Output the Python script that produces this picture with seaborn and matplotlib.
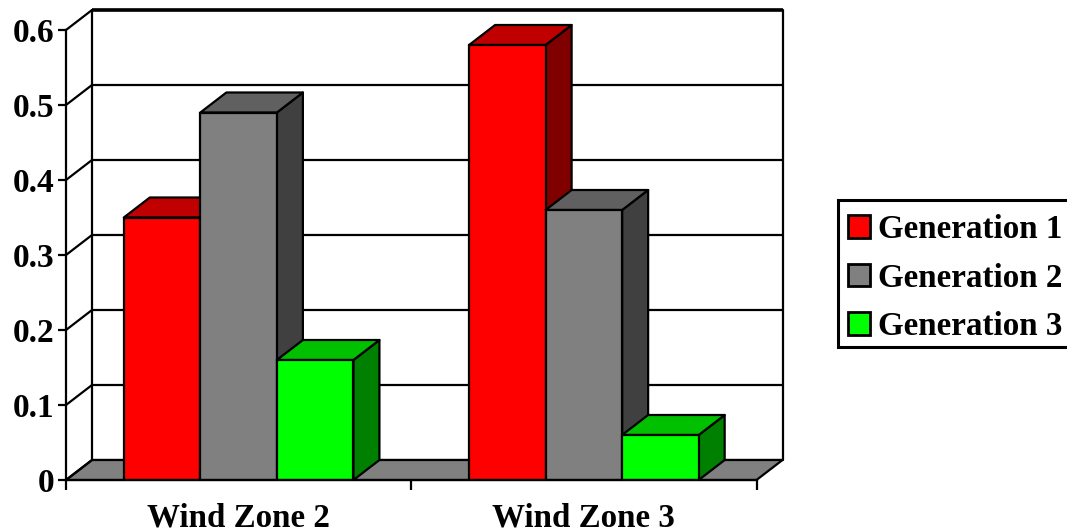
# plot.py
import matplotlib
matplotlib.use("Agg")
import matplotlib.pyplot as plt
from matplotlib.patches import Polygon, Rectangle
import pandas as pd
import seaborn as sns

zones = ["Wind Zone 2", "Wind Zone 3"]
generations = ["Generation 1", "Generation 2", "Generation 3"]
gen1 = [0.35, 0.58]
gen2 = [0.49, 0.36]
gen3 = [0.16, 0.06]
y_ticks = [0, 0.1, 0.2, 0.3, 0.4, 0.5, 0.6]
y_labels = ["0", "0.1", "0.2", "0.3", "0.4", "0.5", "0.6"]

front = ["#ff0000", "#808080", "#00ff00"]
top = ["#c00000", "#606060", "#00c000"]
side = ["#800000", "#404040", "#008000"]

df = pd.DataFrame({
    "zone": zones * 3,
    "gen": [g for g in generations for _ in zones],
    "value": gen1 + gen2 + gen3,
})

sns.set_style("white")
plt.rcParams["font.family"] = ["Liberation Serif", "DejaVu Serif"]
plt.rcParams["font.weight"] = "bold"
plt.rcParams["text.color"] = "black"
plt.rcParams["xtick.color"] = "black"
plt.rcParams["ytick.color"] = "black"

W, H = 1067, 531
fig = plt.figure(figsize=(W / 100, H / 100), dpi=100)
ax = fig.add_axes([66 / W, 1 - 480 / H, 690.5 / W, 450 / H])

lw = 1.6

sns.barplot(data=df, x="zone", y="value", hue="gen", palette=front, width=0.665,
            gap=0, edgecolor="black", linewidth=lw, ax=ax, legend=False, saturation=1)
ax.set_xlim(-0.5, 1.5)
ax.set_ylim(0, 0.6)

# keep the bars before any polygon goes in, left to right
bars = sorted([p for p in ax.patches if p.get_height() > 0], key=lambda p: p.get_x())

# depth of the fake 3D box, in data units
dx = 26 / 690.5 * 2
dy = 20 / 450 * 0.6


def face(pts, color, z):
    ax.add_patch(Polygon(pts, closed=True, facecolor=color, edgecolor="black",
                         linewidth=lw, clip_on=False, zorder=z, joinstyle="round"))


# floor and back wall
face([(-0.5, 0), (1.5, 0), (1.5 + dx, dy), (-0.5 + dx, dy)], "#808080", 1)
face([(-0.5 + dx, dy), (1.5 + dx, dy), (1.5 + dx, 0.6 + dy), (-0.5 + dx, 0.6 + dy)], "white", 0.5)
for t in y_ticks[1:-1]:
    ax.plot([-0.5 + dx, 1.5 + dx], [t + dy, t + dy], color="black", lw=lw, clip_on=False,
            zorder=1, solid_capstyle="butt")
for t in y_ticks:
    ax.plot([-0.5, -0.5 + dx], [t, t + dy], color="black", lw=lw, clip_on=False, zorder=1)
ax.plot([-0.5 + dx, 1.5 + dx], [0.6 + dy, 0.6 + dy], color="black", lw=2.6, clip_on=False,
        zorder=1.2, solid_capstyle="butt")

# each bar covers the side of the previous one
for i, b in enumerate(bars):
    c = front.index(matplotlib.colors.to_hex(b.get_facecolor()))
    x0, x1, h = b.get_x(), b.get_x() + b.get_width(), b.get_height()
    z = 3 + i
    face([(x1, 0), (x1 + dx, dy), (x1 + dx, h + dy), (x1, h)], side[c], z)
    face([(x0, h), (x1, h), (x1 + dx, h + dy), (x0 + dx, h + dy)], top[c], z)
    b.set_zorder(z + 0.5)

for s in ["top", "right"]:
    ax.spines[s].set_visible(False)
for s in ["left", "bottom"]:
    ax.spines[s].set_linewidth(lw)
    ax.spines[s].set_color("black")
    ax.spines[s].set_zorder(20)

ax.set_xlabel("")
ax.set_ylabel("")
ax.set_yticks(y_ticks)
ax.set_yticklabels(y_labels, fontsize=24, fontweight="bold", color="black")
ax.set_xticks([-0.5, 0.5, 1.5])
ax.set_xticklabels([])
ax.set_xticks([0, 1], labels=zones, minor=True, fontsize=23.8, fontweight="bold", color="black")
ax.tick_params(axis="y", length=6, width=lw, pad=2.5, left=True, color="black")
ax.tick_params(axis="x", which="major", length=7, width=lw, bottom=True, color="black")
ax.tick_params(axis="x", which="minor", length=0, pad=16)
ax.patch.set_alpha(0)

# legend box drawn on its own, the entries sit lower in it than a legend frame allows
fig.add_artist(Rectangle((838 / W, 1 - 347 / H), 240 / W, 147 / H, transform=fig.transFigure,
                         facecolor="white", edgecolor="black", linewidth=2.2, zorder=2))
handles = [Rectangle((0, 0), 1, 1, facecolor=c, edgecolor="black", linewidth=2) for c in front]
leg = fig.legend(handles, generations, loc="upper left",
                 bbox_to_anchor=(836 / W, 1 - 202.5 / H), bbox_transform=fig.transFigure,
                 fontsize=23.8, frameon=False, borderpad=0.35, borderaxespad=0, handlelength=0.68,
                 handleheight=0.68, handletextpad=0.25, labelspacing=0.53)
leg.set_zorder(3)
for t in leg.get_texts():
    t.set_color("black")

fig.savefig("out.png", dpi=100)
